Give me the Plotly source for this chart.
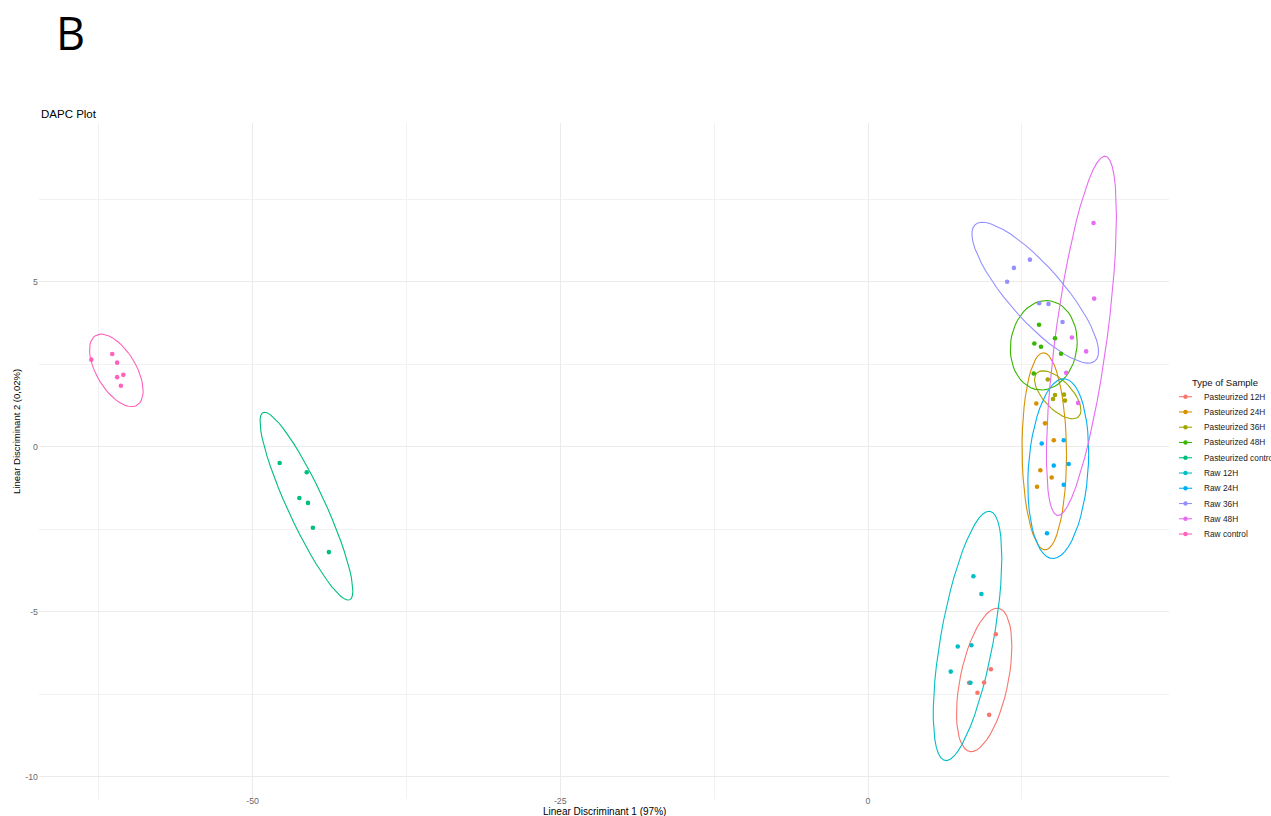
import numpy as np
import plotly.graph_objects as go

# ---- DAPC scores (LD1, LD2) per sample group ----
groups = [
    "Pasteurized 12H", "Pasteurized 24H", "Pasteurized 36H", "Pasteurized 48H",
    "Pasteurized control", "Raw 12H", "Raw 24H", "Raw 36H", "Raw 48H", "Raw control",
]
colors = [
    "#F8766D", "#D89000", "#A3A500", "#39B600", "#00BF7D",
    "#00BFC4", "#00B0F6", "#9590FF", "#E76BF3", "#FF62BC",
]

past12_x = [10.38, 9.98, 8.21, 9.43, 8.89, 9.84]
past12_y = [-5.68, -6.74, -7.15, -7.14, -7.45, -8.12]

past24_x = [13.67, 14.38, 15.09, 14.00, 14.92, 13.73]
past24_y = [1.31, 0.71, 0.20, -0.71, -0.93, -1.21]

past36_x = [14.60, 15.19, 15.92, 15.03, 16.00]
past36_y = [2.04, 1.57, 1.58, 1.45, 1.40]

past48_x = [13.89, 13.51, 14.05, 15.19, 15.68, 13.46]
past48_y = [3.70, 3.13, 3.03, 3.29, 2.82, 2.22]

pastctl_x = [-47.8, -45.6, -46.2, -45.5, -45.1, -43.8]
pastctl_y = [-0.49, -0.77, -1.55, -1.70, -2.45, -3.19]

raw12_x = [8.56, 9.21, 7.29, 8.40, 6.72, 8.32]
raw12_y = [-3.92, -4.46, -6.05, -6.01, -6.81, -7.15]

raw24_x = [14.11, 15.90, 15.09, 16.30, 15.90, 14.54]
raw24_y = [0.10, 0.20, -0.57, -0.52, -1.15, -2.62]

raw36_x = [13.15, 11.85, 11.30, 13.90, 14.66, 15.80]
raw36_y = [5.67, 5.42, 5.00, 4.35, 4.33, 3.78]

raw48_x = [18.32, 18.37, 16.56, 17.72, 16.10, 17.07]
raw48_y = [6.78, 4.49, 3.31, 2.89, 2.24, 1.33]

rawctl_x = [-63.1, -61.4, -61.0, -61.0, -60.5, -60.7]
rawctl_y = [2.64, 2.81, 2.55, 2.11, 2.18, 1.85]

series_x = [past12_x, past24_x, past36_x, past48_x, pastctl_x,
            raw12_x, raw24_x, raw36_x, raw48_x, rawctl_x]
series_y = [past12_y, past24_y, past36_y, past48_y, pastctl_y,
            raw12_y, raw24_y, raw36_y, raw48_y, rawctl_y]

x_ticks = [-50, -25, 0]
y_ticks = [-10, -5, 0, 5]


def cov_trob(pts, nu=5, maxit=25, tol=0.01):
    """Robust multivariate-t covariance (same iteration as MASS::cov.trob)."""
    x = np.asarray(pts, dtype=float)
    n, p = x.shape
    loc = x.mean(axis=0)
    w = np.ones(n)
    X = x - loc
    for _ in range(maxit):
        w0 = w
        X = x - loc
        A = np.sqrt(w / w.sum())[:, None] * X
        _, d, vt = np.linalg.svd(A, full_matrices=False)
        wX = X @ vt.T @ np.diag(1.0 / d)
        Q = (wX ** 2).sum(axis=1)
        w = (nu + p) / (nu + Q)
        loc = (w[:, None] * x).sum(axis=0) / w.sum()
        if np.all(np.abs(w - w0) < tol):
            break
    sw = np.sqrt(w)[:, None] * X
    cov = sw.T @ sw / n
    return cov, loc


def t_ellipse(xs, ys, level=0.95, segments=51):
    pts = np.column_stack([xs, ys])
    n = len(xs)
    dfd = n - 1
    # F(2, dfd) quantile has a closed form
    qf = dfd / 2.0 * ((1 - level) ** (-2.0 / dfd) - 1.0)
    radius = np.sqrt(2 * qf)
    cov, center = cov_trob(pts)
    R = np.linalg.cholesky(cov).T
    ang = np.linspace(0, 2 * np.pi, segments + 1)
    circle = np.column_stack([np.cos(ang), np.sin(ang)])
    ell = center + radius * (circle @ R)
    return ell[:, 0], ell[:, 1]


fig = go.Figure()

for name, col, xs, ys in zip(groups, colors, series_x, series_y):
    ex, ey = t_ellipse(xs, ys)
    fig.add_trace(go.Scatter(x=ex, y=ey, mode="lines", line=dict(color=col, width=1.1),
                             showlegend=False, hoverinfo="skip"))
for name, col, xs, ys in zip(groups, colors, series_x, series_y):
    fig.add_trace(go.Scatter(x=xs, y=ys, mode="markers", name=name,
                             marker=dict(color=col, size=4.6), showlegend=False))

# panel geometry in pixels
W, H = 1271, 816
L, R_, T, B = 39, 1169, 123, 799


def px_x(px):
    return (px - L) / (R_ - L)


def px_y(py):
    return (B - py) / (B - T)


font = "Liberation Sans, Arial, sans-serif"
annotations = [
    dict(text="B", x=px_x(54), y=px_y(32), xref="paper", yref="paper", xanchor="left",
         yanchor="middle", showarrow=False, font=dict(family="Open Sans, sans-serif", size=45, color="black")),
    dict(text="DAPC Plot", x=px_x(39), y=px_y(114), xref="paper", yref="paper", xanchor="left",
         yanchor="middle", showarrow=False, font=dict(family=font, size=11.5, color="black")),
    dict(text="Linear Discriminant 1 (97%)", x=px_x(604), y=px_y(811), xref="paper", yref="paper",
         xanchor="center", yanchor="middle", showarrow=False, font=dict(family=font, size=10, color="black")),
    dict(text="Linear Discriminant 2 (0,02%)", x=px_x(17), y=px_y(432), xref="paper", yref="paper",
         xanchor="center", yanchor="middle", textangle=-90, showarrow=False,
         font=dict(family=font, size=9.5, color="black")),
    dict(text="Type of Sample", x=px_x(1190), y=px_y(382), xref="paper", yref="paper",
         xanchor="left", yanchor="middle", showarrow=False, font=dict(family=font, size=9.5, color="#111111")),
]

shapes = []
# legend keys
key_top, key_step = 396.7, 15.26
for i, (name, col) in enumerate(zip(groups, colors)):
    ky = key_top + i * key_step
    shapes.append(dict(type="line", xref="paper", yref="paper", x0=px_x(1179), x1=px_x(1192),
                       y0=px_y(ky), y1=px_y(ky), line=dict(color=col, width=1.1)))
    shapes.append(dict(type="circle", xref="paper", yref="paper", fillcolor=col, line=dict(width=0),
                       x0=px_x(1183.3), x1=px_x(1187.7), y0=px_y(ky + 2.2), y1=px_y(ky - 2.2)))
    annotations.append(dict(text=name, x=px_x(1202), y=px_y(ky), xref="paper", yref="paper",
                            xanchor="left", yanchor="middle", showarrow=False,
                            font=dict(family=font, size=8.3, color="#1a1a1a")))

fig.update_layout(
    width=W, height=H,
    margin=dict(l=L, r=W - R_, t=T, b=H - B, autoexpand=False),
    paper_bgcolor="white", plot_bgcolor="white",
    showlegend=False,
    annotations=annotations,
    shapes=shapes,
    font=dict(family=font),
    xaxis=dict(range=[-67.35, 24.45], tickvals=x_ticks, ticktext=[str(v) for v in x_ticks],
               automargin=False, ticklabelstandoff=-5,
               showgrid=True, gridcolor="#EBEBEB", gridwidth=1, zeroline=False, showline=False,
               ticks="", tickfont=dict(size=8.8, color="#6b6b6b"),
               minor=dict(tickvals=[-62.5, -37.5, -12.5, 12.5], showgrid=True, gridcolor="#F2F2F2",
                          gridwidth=0.6)),
    yaxis=dict(range=[-10.67, 9.81], tickvals=y_ticks, ticktext=[str(v) for v in y_ticks],
               automargin=False,
               showgrid=True, gridcolor="#EBEBEB", gridwidth=1, zeroline=False, showline=False,
               ticks="", tickfont=dict(size=8.8, color="#6b6b6b"),
               minor=dict(tickvals=[-7.5, -2.5, 2.5, 7.5], showgrid=True, gridcolor="#F2F2F2",
                          gridwidth=0.6)),
)

fig.write_html("out.html")
